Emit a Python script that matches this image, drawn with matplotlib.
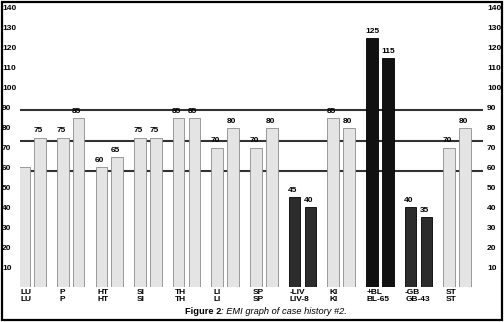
import matplotlib
matplotlib.use("Agg")
import matplotlib.pyplot as plt
from matplotlib.patches import Rectangle
import numpy as np

# meridian pairs: top label, bottom label, reading 1, reading 2
top_labels = ["LU", "P", "HT", "SI", "TH", "LI", "SP", "-LIV", "KI", "+BL", "-GB", "ST"]
bottom_labels = ["LU", "P", "HT", "SI", "TH", "LI", "SP", "LIV-8", "KI", "BL-65", "GB-43", "ST"]
first_vals = [60, 75, 60, 75, 85, 70, 70, 45, 85, 125, 40, 70]
second_vals = [75, 85, 65, 75, 85, 80, 80, 40, 80, 115, 35, 80]
shade = ["light"] * 7 + ["dark", "light", "black", "dark", "light"]
ref_lines = [88.8, 73.3, 58.3]
yticks = list(range(10, 150, 10))

fills = {"light": "#e4e4e4", "dark": "#2c2c2c", "black": "#111111"}
edges = {"light": "#8c8c8c", "dark": "#000000", "black": "#000000"}

plt.rcParams['font.family'] = ['Liberation Sans', 'DejaVu Sans']
FS = 6.0

W, H = 504, 322
fig = plt.figure(figsize=(W / 100, H / 100), dpi=100)
ax = fig.add_axes([20 / W, 35 / H, 463 / W, 279 / H])

x = np.arange(len(top_labels))
bw, off = 0.30, 0.205
ax.set_xlim(-0.31, 11.67)
ax.set_ylim(0, 140)

for y in ref_lines:
    ax.axhline(y, color="#333333", lw=1.5, zorder=1)

for i in range(len(x)):
    for xv, v in ((x[i] - off, first_vals[i]), (x[i] + off, second_vals[i])):
        ax.bar(xv, v, width=bw, color=fills[shade[i]], edgecolor=edges[shade[i]],
               linewidth=0.6, zorder=2)
        ax.annotate(str(v), (xv - bw / 2, v), xytext=(-0.5, 2.2), textcoords="offset points",
                    ha="left", va="bottom", fontsize=FS, fontweight="bold", zorder=3)
    lx = x[i] - off - bw / 2
    dx = 0.3 if len(bottom_labels[i]) > 3 else 1.6
    ax.annotate(top_labels[i], (lx, 0), xytext=(dx, -4.0), textcoords="offset points",
                ha="left", va="center", fontsize=FS, fontweight="bold", annotation_clip=False)
    ax.annotate(bottom_labels[i], (lx, 0), xytext=(dx, -9.2), textcoords="offset points",
                ha="left", va="center", fontsize=FS, fontweight="bold", annotation_clip=False)

for s in ax.spines.values():
    s.set_visible(False)
ax.set_xticks([])
ax.set_yticks(yticks)
ax.tick_params(axis="y", length=0, pad=18 * 0.72, labelsize=FS)
for t in ax.get_yticklabels():
    t.set_horizontalalignment("left")
    t.set_fontweight("bold")

ax2 = ax.twinx()
ax2.set_ylim(0, 140)
ax2.set_yticks(yticks)
for s in ax2.spines.values():
    s.set_visible(False)
ax2.tick_params(axis="y", length=0, pad=4 * 0.72, labelsize=FS)
for t in ax2.get_yticklabels():
    t.set_fontweight("bold")

# caption: bold figure number, italic description
fig.text(221 / W, 1 - 311 / H, "Figure 2", ha="right", va="center", fontsize=6.7, fontweight="bold")
fig.text(221 / W, 1 - 311 / H, ": EMI graph of case history #2.", ha="left", va="center",
         fontsize=6.7, style="italic")

fig.patches.append(Rectangle((1.5 / W, 2.5 / H), 500 / W, 318 / H, transform=fig.transFigure,
                             fill=False, edgecolor="black", linewidth=1.6))

fig.savefig("out.png", dpi=100)
